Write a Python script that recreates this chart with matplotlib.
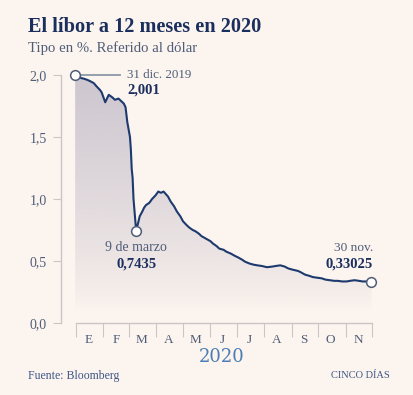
import numpy as np
import matplotlib
matplotlib.use("Agg")
import matplotlib.pyplot as plt
import matplotlib.dates as mdates
from matplotlib.colors import to_rgb
import datetime as dt

# ---- data ----
dates = ["2019-12-31", "2020-01-03", "2020-01-07", "2020-01-10", "2020-01-14", "2020-01-17",
         "2020-01-21", "2020-01-24", "2020-01-28", "2020-01-30", "2020-02-03", "2020-02-05",
         "2020-02-07", "2020-02-11", "2020-02-14", "2020-02-18", "2020-02-21", "2020-02-24",
         "2020-02-26", "2020-02-27", "2020-02-28", "2020-03-02", "2020-03-03", "2020-03-04",
         "2020-03-05", "2020-03-06", "2020-03-09", "2020-03-11", "2020-03-13", "2020-03-16",
         "2020-03-18", "2020-03-20", "2020-03-24", "2020-03-27", "2020-03-31", "2020-04-03",
         "2020-04-06", "2020-04-09", "2020-04-14", "2020-04-17", "2020-04-21", "2020-04-24",
         "2020-04-28", "2020-05-01", "2020-05-05", "2020-05-08", "2020-05-12", "2020-05-15",
         "2020-05-19", "2020-05-22", "2020-05-27", "2020-06-01", "2020-06-04", "2020-06-08",
         "2020-06-11", "2020-06-16", "2020-06-19", "2020-06-24", "2020-06-29", "2020-07-02",
         "2020-07-07", "2020-07-10", "2020-07-15", "2020-07-20", "2020-07-24", "2020-07-29",
         "2020-08-04", "2020-08-10", "2020-08-14", "2020-08-19", "2020-08-24", "2020-08-28",
         "2020-09-02", "2020-09-08", "2020-09-11", "2020-09-16", "2020-09-21", "2020-09-25",
         "2020-09-30", "2020-10-05", "2020-10-09", "2020-10-14", "2020-10-19", "2020-10-23",
         "2020-10-28", "2020-11-02", "2020-11-06", "2020-11-11", "2020-11-16", "2020-11-20",
         "2020-11-25", "2020-11-30"]
values = [2.001, 1.99, 1.975, 1.97, 1.96, 1.95,
          1.935, 1.91, 1.88, 1.86, 1.78, 1.81,
          1.84, 1.82, 1.80, 1.81, 1.79, 1.77,
          1.74, 1.68, 1.62, 1.50, 1.40, 1.24,
          1.17, 1.00, 0.7435, 0.80, 0.86, 0.90,
          0.93, 0.95, 0.97, 1.00, 1.03, 1.06,
          1.05, 1.06, 1.02, 0.98, 0.94, 0.90,
          0.86, 0.82, 0.79, 0.77, 0.75, 0.74,
          0.72, 0.70, 0.68, 0.66, 0.64, 0.62,
          0.60, 0.59, 0.575, 0.56, 0.54, 0.53,
          0.51, 0.495, 0.48, 0.47, 0.465, 0.46,
          0.45, 0.455, 0.46, 0.465, 0.455, 0.44,
          0.43, 0.42, 0.41, 0.39, 0.38, 0.37,
          0.365, 0.36, 0.35, 0.345, 0.34, 0.34,
          0.335, 0.335, 0.34, 0.345, 0.34, 0.335,
          0.335, 0.33025]
month_labels = ["E", "F", "M", "A", "M", "J", "J", "A", "S", "O", "N"]
y_ticks = [0.0, 0.5, 1.0, 1.5, 2.0]
y_tick_labels = ["0,0", "0,5", "1,0", "1,5", "2,0"]

BG = "#fcf4ee"
NAVY = "#1b2f5e"
LINE = "#1c3a6e"
GREY = "#4f5d78"
SPINE = "#c9c6c6"

SERIF = ["Liberation Serif", "DejaVu Serif"]
plt.rcParams["font.family"] = SERIF

x = [dt.datetime.strptime(d, "%Y-%m-%d") for d in dates]
xn = mdates.date2num(x)
y = np.array(values)

fig = plt.figure(figsize=(4.14, 3.95), dpi=100, facecolor=BG)
ax = fig.add_axes([61/414, (395-323)/395, (374-61)/414, 248/395])
ax.set_facecolor(BG)

xmin = mdates.date2num(dt.datetime(2019, 12, 15))
xmax = mdates.date2num(dt.datetime(2020, 12, 3))

# gradient fill under the curve
poly = ax.fill_between(xn, y, 0, color="none", lw=0)
top = np.array(to_rgb("#cdc6d0"))
n = 256
grad = np.zeros((n, 1, 4))
levels = np.linspace(0, 2.0, n)
alpha = np.clip((levels - 0.1) / (2.0 - 0.1), 0, 1) ** 0.75
grad[:, 0, :3] = top
grad[:, 0, 3] = alpha
im = ax.imshow(grad, extent=(xn[0], xn[-1], 0, 2.0), origin="lower", aspect="auto", zorder=1)
path = poly.get_paths()[0]
im.set_clip_path(path, transform=ax.transData)

ax.plot(xn, y, color=LINE, lw=1.5, zorder=3, solid_joinstyle="round")

ax.set_xlim(xmin, xmax)
ax.set_ylim(0, 2.0)

# spines
for s in ["top", "right"]:
    ax.spines[s].set_visible(False)
ax.spines["left"].set_color(SPINE)
ax.spines["bottom"].set_color(SPINE)
ax.spines["left"].set_linewidth(1)
ax.spines["bottom"].set_linewidth(1)
month_starts = [dt.datetime(2020, m, 1) for m in range(1, 13)]
ax.spines["bottom"].set_bounds(mdates.date2num(month_starts[0]), mdates.date2num(month_starts[-1]))

ax.set_yticks(y_ticks)
ax.set_yticklabels(y_tick_labels)
ax.tick_params(axis="y", length=6, color=SPINE, labelcolor=GREY, labelsize=10, pad=4)

ax.set_xticks(mdates.date2num(month_starts))
ax.set_xticklabels([])
ax.tick_params(axis="x", which="major", length=10, color=SPINE)
mids = [mdates.date2num(dt.datetime(2020, m, 15)) for m in range(1, 12)]
ax.set_xticks(mids, minor=True)
ax.set_xticklabels(month_labels, minor=True)
ax.tick_params(axis="x", which="minor", length=0, labelcolor=GREY, labelsize=9.5, pad=8)

# markers and annotations
start_x, end_x = xn[0], xn[-1]
mar9 = mdates.date2num(dt.datetime(2020, 3, 9))
ax.plot([start_x, mdates.date2num(dt.datetime(2020, 2, 20))], [2.0, 2.0], color="#8d97a6", lw=1.3, zorder=2, clip_on=False)
for px, py in [(start_x, values[0]), (mar9, 0.7435), (end_x, values[-1])]:
    ax.plot(px, py, marker="o", ms=7, mfc="white", mec=GREY, mew=1.1, zorder=5, clip_on=False)

ann_x = mdates.date2num(dt.datetime(2020, 2, 28))
ax.text(ann_x, 2.0, "31 dic. 2019", color=GREY, fontsize=9.4, va="center", ha="left")
ax.text(ann_x, 1.875, "2,001", color=NAVY, fontsize=10.5, fontweight="bold", va="center", ha="left")
ax.text(mar9, 0.605, "9 de marzo", color=GREY, fontsize=10, va="center", ha="center")
ax.text(mar9, 0.475, "0,7435", color=NAVY, fontsize=10.5, fontweight="bold", va="center", ha="center")
ax.text(end_x + 2, 0.605, "30 nov.", color=GREY, fontsize=9.6, va="center", ha="right")
ax.text(end_x + 2, 0.475, "0,33025", color=NAVY, fontsize=10.5, fontweight="bold", va="center", ha="right")

# texts
fig.text(28/414, 1 - 27/395, "El líbor a 12 meses en 2020", color=NAVY, fontsize=14.6,
         fontweight="bold", va="center", ha="left")
fig.text(28/414, 1 - 48/395, "Tipo en %. Referido al dólar", color=GREY, fontsize=10.6,
         va="center", ha="left")
fig.text(222/414, 1 - 357/395, "2020", color="#4a7db5", fontsize=13, va="center", ha="center",
         family=["DejaVu Serif"])
fig.text(28/414, 1 - 376/395, "Fuente: Bloomberg", color="#3d5585", fontsize=8.5, va="center", ha="left")
fig.text(390/414, 1 - 376/395, "CINCO DÍAS", color="#3d5585", fontsize=7.5, va="center", ha="right")

fig.savefig("out.png", dpi=100, facecolor=BG)
